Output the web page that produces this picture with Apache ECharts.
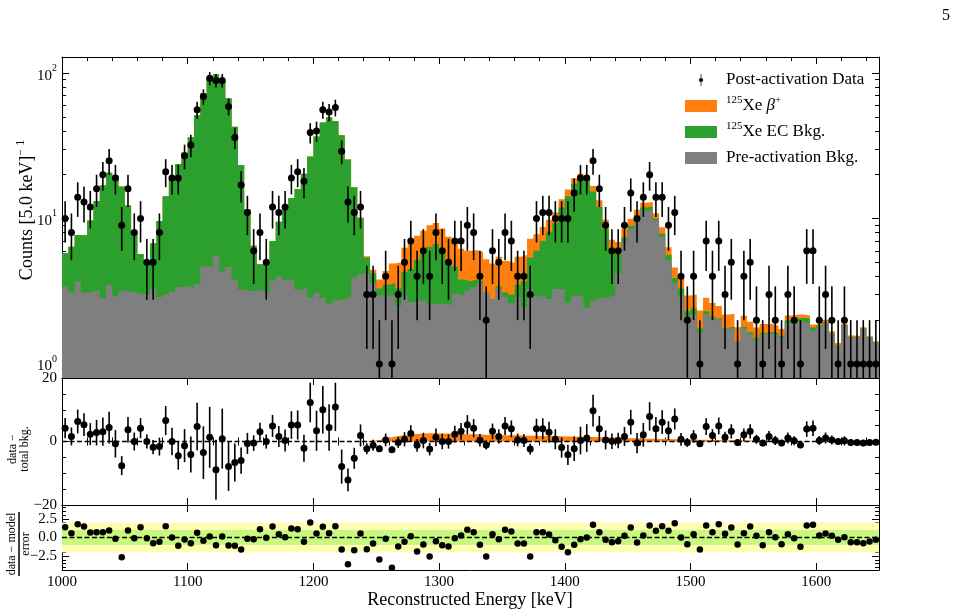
<!DOCTYPE html>
<html>
<head>
<meta charset="utf-8">
<script src="https://cdn.jsdelivr.net/npm/echarts@6/dist/echarts.min.js"></script>
<style>
  html, body { margin: 0; padding: 0; background: #fff; }
  #chart { width: 957px; height: 614px; }
</style>
</head>
<body>
<div id="chart"></div>
<script>
// 5 keV bins from 1000 to 1650 keV
const binStart = 1000;
const binWidth = 5;

// post-activation counts per bin
const counts = [
  10, 8, 14, 13, 12, 16, 20, 25, 19, 9,
  16, 8, 10, 5, 5, 8, 21, 19, 19, 27,
  32, 56, 69, 92, 89, 89, 59, 36, 17, 11,
  6, 8, 5, 12, 11, 12, 19, 21, 18, 39,
  40, 56, 54, 58, 29, 13, 11, 12, 3, 3,
  1, 4, 1, 3, 5, 7, 4, 6, 4, 8,
  6, 5, 7, 7, 9, 8, 4, 2, 6, 5,
  8, 7, 4, 4, 3, 10, 11, 11, 10, 10,
  10, 15, 19, 19, 25, 16, 9, 6, 6, 9,
  15, 10, 14, 20, 14, 14, 9, 11, 4, 2,
  4, 1, 7, 4, 7, 3, 5, 1, 4, 5,
  2, 1, 3, 2, 1, 3, 2, 1, 6, 6,
  2, 3, 2, 1, 2, 1, 1, 1, 1, 1
];

// pre-activation background
const preBkg = [
  3.40, 3.08, 3.70, 3.08, 3.16, 3.19, 2.83, 3.50, 2.92, 3.19,
  3.11, 3.14, 3.03, 3.00, 3.28, 2.88, 3.00, 3.14, 3.37, 3.42,
  3.35, 3.55, 4.70, 4.61, 5.56, 4.32, 4.63, 3.79, 3.23, 3.16,
  3.20, 3.23, 3.11, 3.75, 4.00, 3.79, 3.75, 3.23, 3.33, 2.85,
  3.08, 2.85, 2.59, 2.73, 2.80, 2.88, 3.93, 4.17, 4.17, 3.60,
  2.95, 2.95, 2.95, 2.50, 2.95, 2.66, 2.73, 2.73, 2.59, 2.59,
  2.59, 2.53, 3.03, 2.95, 3.19, 3.37, 3.60, 3.08, 2.78, 3.33,
  2.88, 2.59, 2.88, 2.47, 3.28, 2.91, 2.95, 2.80, 3.28, 3.28,
  2.62, 2.95, 2.91, 2.43, 2.73, 2.83, 2.88, 2.95, 4.17, 6.90,
  8.50, 10.2, 11.3, 11.4, 9.70, 7.50, 5.20, 3.60, 2.90, 2.10,
  2.20, 1.65, 2.20, 2.05, 1.99, 1.75, 1.75, 1.40, 1.75, 1.60,
  1.45, 1.60, 1.62, 1.58, 1.52, 1.90, 1.95, 1.95, 1.90, 1.70,
  1.80, 1.92, 1.60, 1.32, 1.83, 1.52, 1.52, 1.75, 1.52, 1.40
];

// 125Xe EC background
const ecBkg = [
  2.40, 3.32, 4.00, 4.62, 6.54, 10.0, 14.1, 17.1, 16.8, 13.4,
  9.19, 5.06, 2.67, 2.10, 3.47, 6.72, 11.2, 15.9, 20.3, 25.0,
  32.9, 47.8, 67.9, 86.2, 92.7, 83.7, 62.4, 38.9, 20.1, 8.44,
  3.30, 1.62, 1.94, 3.25, 5.50, 8.01, 10.1, 12.7, 17.0, 23.8,
  33.5, 42.9, 47.1, 44.1, 34.5, 22.6, 12.5, 5.93, 1.23, 0.60,
  0.35, 0.55, 0.65, 0.80, 1.35, 1.84, 2.47, 2.97, 3.81, 4.11,
  3.41, 2.47, 1.67, 0.85, 0.51, 0.43, 0.10, 0.02, 0.02, 0.07,
  0.22, 0.41, 0.62, 1.23, 2.12, 3.09, 4.05, 5.30, 6.02, 8.62,
  11.6, 14.4, 15.8, 15.5, 12.6, 9.17, 5.62, 2.95, 1.53, 0.50,
  0.40, 0.30, 0.60, 0.70, 0.30, 0.40, 0.40, 0.30, 0.40, 0.20,
  0.20, 0.10, 0.10, 0.07, 0.06, 0.02, 0.05, 0.02, 0.05, 0.05,
  0.05, 0.03, 0.04, 0.05, 0.04, 0.10, 0.10, 0.12, 0.15, 0.08,
  0.04, 0.02, 0.02, 0.02, 0.02, 0.01, 0.01, 0.01, 0.01, 0.01
];

// 125Xe beta+ signal
const betaPlus = [
  0, 0, 0, 0, 0, 0, 0, 0, 0, 0,
  0, 0, 0, 0, 0, 0, 0, 0, 0, 0,
  0, 0, 0, 0, 0, 0, 0, 0, 0, 0,
  0, 0, 0, 0, 0, 0, 0, 0, 0, 0,
  0, 0, 0, 0, 0, 0, 0, 0, 0.10, 0.25,
  0.50, 0.85, 1.30, 1.70, 2.00, 2.20, 2.40, 2.55, 2.60, 2.60,
  2.55, 2.50, 2.45, 2.40, 2.30, 2.25, 2.20, 2.15, 2.10, 2.05,
  2.00, 1.95, 1.95, 1.90, 1.85, 1.80, 1.75, 1.70, 1.70, 1.65,
  1.60, 1.55, 1.50, 1.45, 1.40, 1.35, 1.30, 1.25, 1.20, 1.10,
  1.05, 1.00, 0.95, 0.90, 0.85, 0.80, 0.75, 0.70, 0.68, 0.65,
  0.60, 0.58, 0.55, 0.50, 0.45, 0.42, 0.40, 0.37, 0.34, 0.30,
  0.28, 0.25, 0.22, 0.20, 0.18, 0.15, 0.13, 0.12, 0.10, 0.09,
  0.08, 0.07, 0.06, 0.05, 0.04, 0.04, 0.03, 0.03, 0.02, 0.02
];

// data - total bkg
const residuals = [
  4.2, 1.6, 6.3, 5.3, 2.3, 2.8, 3.1, 4.4, -0.7, -7.6,
  3.7, 0.0, 4.2, 0.0, -1.8, -1.6, 6.6, 0.0, -4.5, -1.3,
  -4.1, 4.7, -3.5, 1.3, -8.9, 0.9, -7.9, -6.6, -6.0, -0.6,
  -0.5, 3.1, 0.0, 4.9, 1.6, 0.3, 5.2, 5.2, -2.1, 12.3,
  3.4, 10.0, 4.4, 10.9, -7.9, -12.1, -5.3, 1.9, -2.3, -1.2,
  -2.3, 0.5, -2.6, -0.3, 0.7, 2.5, -1.2, 0.3, -2.4, 1.3,
  0.0, 0.0, 2.3, 3.2, 5.3, 4.2, 0.4, -1.1, 3.2, 1.6,
  4.9, 4.0, 0.5, 0.3, -2.4, 4.0, 4.0, 2.9, 0.7, -1.9,
  -4.2, -2.3, 0.3, 1.1, 9.7, 4.0, 0.5, 0.1, 0.3, 1.6,
  6.1, -0.5, 2.1, 7.9, 4.0, 6.1, 3.4, 7.1, 0.7, -0.3,
  1.6, -0.7, 4.7, 1.9, 4.9, 1.3, 3.2, -0.3, 2.1, 3.2,
  0.7, -0.5, 1.6, 0.3, -0.5, 1.1, 0.2, -1.1, 3.9, 4.2,
  0.3, 1.1, 0.5, 0.0, 0.2, -0.3, -0.3, -0.5, -0.3, -0.2
];

// (data - model) / error
const pulls = [
  1.38, 0.58, 1.79, 1.47, 0.67, 0.71, 0.71, 0.94, -0.18, -2.63,
  0.94, -0.09, 1.38, -0.09, -0.76, -0.58, 1.52, 0.00, -1.12, -0.27,
  -0.76, 0.63, -0.45, 0.13, -1.03, 0.13, -1.07, -1.12, -1.61, -0.18,
  -0.22, 1.12, -0.04, 1.47, 0.45, 0.04, 1.20, 1.12, -0.58, 2.00,
  0.54, 1.43, 0.58, 1.52, -1.61, -3.57, -1.70, 0.54, -1.56, -0.80,
  -2.95, -0.18, -4.06, -1.20, -0.58, 0.18, -1.88, -0.94, -2.54, -0.49,
  -1.03, -1.20, -0.09, 0.27, 1.03, 0.71, -0.98, -2.54, 0.45, -0.22,
  1.03, 0.80, -0.80, -0.80, -2.54, 0.71, 0.71, 0.40, -0.36, -1.25,
  -1.96, -0.98, -0.22, 0.00, 1.70, 0.71, -0.31, -0.63, -0.49, 0.22,
  1.34, -0.67, 0.27, 1.61, 0.89, 1.52, 0.89, 1.92, 0.00, -0.89,
  0.45, -1.61, 1.61, 0.71, 1.79, 0.49, 1.34, -0.94, 0.58, 1.47,
  0.22, -1.03, 0.71, 0.04, -0.89, 0.45, -0.09, -1.25, 1.61, 1.70,
  0.27, 0.54, 0.22, -0.31, 0.04, -0.63, -0.63, -0.76, -0.54, -0.31
];

// tick values
const energyTicks = [1000, 1100, 1200, 1300, 1400, 1500, 1600];
const energyMinor = [1020, 1040, 1060, 1080, 1120, 1140, 1160, 1180, 1220, 1240, 1260, 1280,
  1320, 1340, 1360, 1380, 1420, 1440, 1460, 1480, 1520, 1540, 1560, 1580, 1620, 1640];
const countTicks = [1, 10, 100];
const countMinor = [0.9, 2, 3, 4, 5, 6, 7, 8, 9, 20, 30, 40, 50, 60, 70, 80, 90];
const residTicks = [-20, 0, 20];
const residMinor = [-15, -10, -5, 5, 10, 15];
const pullTicks = [-2.5, 0, 2.5];
const pullMinor = [-4, -3.5, -3, -2, -1.5, -1, -0.5, 0.5, 1, 1.5, 2, 3, 3.5, 4];

const FONT = 'Liberation Serif';
const ORANGE = '#ff7f0e';
const GREEN = '#2ca02c';
const GREY = '#7f7f7f';

const nBins = counts.length;
const eMax = binStart + nBins * binWidth;
const centers = counts.map((_, i) => binStart + (i + 0.5) * binWidth);

// stacked levels
const ecTop = preBkg.map((g, i) => g + ecBkg[i]);
const totalTop = ecTop.map((v, i) => v + betaPlus[i]);

function stepData(vals) {
  const d = vals.map((v, i) => [binStart + i * binWidth, v]);
  d.push([eMax, vals[vals.length - 1]]);
  return d;
}

const dataPts = counts.map((c, i) => [centers[i], c]);
const dataErr = counts.map((c, i) => [centers[i], Math.max(c - Math.sqrt(c), 0.4), c + Math.sqrt(c)]);
const residPts = residuals.map((r, i) => [centers[i], r]);
const residErr = residuals.map((r, i) => [centers[i], r - Math.sqrt(counts[i]), r + Math.sqrt(counts[i])]);
const pullPts = pulls.map((p, i) => [centers[i], p]);
const betaBand = betaPlus.map((b, i) => [centers[i], b]);

const minus = v => (v < 0 ? '\u2212' : '') + Math.abs(v);

// axes
function xPair(grid, pos, labels) {
  const base = {
    type: 'value', gridIndex: grid, position: pos, min: binStart, max: eMax,
    splitLine: { show: false }
  };
  return [
    Object.assign({}, base, {
      axisLine: { show: true, onZero: false, lineStyle: { color: '#000', width: 1 } },
      axisTick: { show: true, inside: true, length: 7, customValues: energyTicks, lineStyle: { color: '#000' } },
      axisLabel: {
        show: labels, customValues: energyTicks, margin: 5, color: '#000',
        fontFamily: FONT, fontSize: 15, formatter: v => String(v)
      }
    }),
    Object.assign({}, base, {
      axisLine: { show: false },
      axisTick: { show: true, inside: true, length: 4, customValues: energyMinor, lineStyle: { color: '#000' } },
      axisLabel: { show: false }
    })
  ];
}

function yPair(grid, pos, type, min, max, majors, minors, label) {
  const base = { type: type, gridIndex: grid, position: pos, min: min, max: max, splitLine: { show: false } };
  if (type === 'log') base.logBase = 10;
  return [
    Object.assign({}, base, {
      axisLine: { show: true, onZero: false, lineStyle: { color: '#000', width: 1 } },
      axisTick: { show: true, inside: true, length: 7, customValues: majors, lineStyle: { color: '#000' } },
      axisLabel: label ? Object.assign({ customValues: majors, margin: 5, color: '#000', fontFamily: FONT, fontSize: 15 }, label)
                       : { show: false }
    }),
    Object.assign({}, base, {
      axisLine: { show: false },
      axisTick: { show: true, inside: true, length: 4, customValues: minors, lineStyle: { color: '#000' } },
      axisLabel: { show: false }
    })
  ];
}

const logLabel = {
  formatter: v => '{b|10}{e|' + Math.round(Math.log10(v)) + '}',
  rich: {
    b: { fontFamily: FONT, fontSize: 15, lineHeight: 20, verticalAlign: 'bottom', color: '#000' },
    e: { fontFamily: FONT, fontSize: 10, lineHeight: 10, verticalAlign: 'top', color: '#000' }
  }
};

const xAxes = [].concat(
  xPair(0, 'bottom', false), xPair(0, 'top', false),
  xPair(1, 'bottom', false), xPair(1, 'top', false),
  xPair(2, 'bottom', true), xPair(2, 'top', false)
);

const yAxes = [].concat(
  yPair(0, 'left', 'log', 0.8, 129, countTicks, countMinor, logLabel),
  yPair(0, 'right', 'log', 0.8, 129, countTicks, countMinor, null),
  yPair(1, 'left', 'value', -20, 20, residTicks, residMinor, { formatter: v => minus(v) }),
  yPair(1, 'right', 'value', -20, 20, residTicks, residMinor, null),
  yPair(2, 'left', 'value', -4.35, 4.35, pullTicks, pullMinor, { formatter: v => (v < 0 ? '\u2212' : '') + Math.abs(v).toFixed(1) }),
  yPair(2, 'right', 'value', -4.35, 4.35, pullTicks, pullMinor, null)
);

function errorBars(name, xi, yi, data, z) {
  return {
    name: name, type: 'custom', xAxisIndex: xi, yAxisIndex: yi, data: data, z: z, clip: true,
    itemStyle: { color: '#000' },
    encode: { x: 0, y: [1, 2] },
    renderItem: (params, api) => {
      const x = api.value(0);
      const a = api.coord([x, api.value(1)]);
      const b = api.coord([x, api.value(2)]);
      return {
        type: 'line',
        shape: { x1: a[0], y1: a[1], x2: b[0], y2: b[1] },
        style: { stroke: '#000', lineWidth: 1.6 }
      };
    }
  };
}

function stepArea(name, vals, color, z) {
  return {
    name: name, type: 'line', xAxisIndex: 0, yAxisIndex: 0, step: 'end',
    data: stepData(vals), symbol: 'none', showSymbol: false, z: z,
    itemStyle: { color: color },
    lineStyle: { width: 0, color: color },
    areaStyle: { color: color, opacity: 1, origin: 'start' }
  };
}

const zeroLine = {
  silent: true, symbol: 'none',
  label: { show: false },
  lineStyle: { color: '#000', type: [5, 2.5], width: 1.3 },
  data: [{ yAxis: 0 }]
};

const legendText = {
  data: 'Post-activation Data',
  beta: '{s|125}Xe {i|\u03b2}{s|+}',
  ec: '{s|125}Xe EC Bkg.',
  pre: 'Pre-activation Bkg.'
};

const chart = echarts.init(document.getElementById('chart'), null, { renderer: 'canvas' });

chart.setOption({
  animation: false,
  backgroundColor: '#fff',
  textStyle: { fontFamily: FONT },
  grid: [
    { left: 62, top: 57, width: 817, height: 321, outerBoundsMode: 'none' },
    { left: 62, top: 378, width: 817, height: 127, outerBoundsMode: 'none' },
    { left: 62, top: 505, width: 817, height: 65, outerBoundsMode: 'none' }
  ],
  xAxis: xAxes,
  yAxis: yAxes,
  legend: {
    orient: 'vertical', left: 680, top: 64,
    itemWidth: 32, itemHeight: 12, itemGap: 4,
    selectedMode: false,
    formatter: name => legendText[name],
    textStyle: {
      fontFamily: FONT, fontSize: 17, color: '#000', lineHeight: 22,
      padding: [0, 0, 0, 4],
      rich: {
        s: { fontFamily: FONT, fontSize: 11, lineHeight: 10, verticalAlign: 'top', color: '#000' },
        i: { fontFamily: FONT, fontSize: 17, fontStyle: 'italic', color: '#000' }
      }
    },
    data: [
      { name: 'data', icon: 'path://M4.4,0H5.6V20H4.4Z M1.5,10A3.5,3.5,0,1,1,8.5,10A3.5,3.5,0,1,1,1.5,10Z' },
      { name: 'beta', icon: 'rect' },
      { name: 'ec', icon: 'rect' },
      { name: 'pre', icon: 'rect' }
    ]
  },
  graphic: [
    {
      type: 'text', x: 946, y: 16,
      style: { text: '5', fill: '#000', font: '16px "Liberation Serif"', textAlign: 'center', textVerticalAlign: 'middle', align: 'center', verticalAlign: 'middle' }
    },
    {
      type: 'text', x: 27, y: 210, rotation: Math.PI / 2,
      style: {
        text: 'Counts [5.0 keV]{s|\u2212 1}', fill: '#000', font: '18px "Liberation Serif"',
        textAlign: 'center', textVerticalAlign: 'middle', align: 'center', verticalAlign: 'middle',
        lineHeight: 24,
        rich: { s: { fontFamily: FONT, fontSize: 12, lineHeight: 12, verticalAlign: 'top', fill: '#000' } }
      }
    },
    {
      type: 'group', x: 19, y: 449, rotation: Math.PI / 2,
      children: [
        { type: 'text', x: 0, y: -6, style: { text: 'data \u2212', fill: '#000', font: '12px "Liberation Serif"', textAlign: 'center', textVerticalAlign: 'middle', align: 'center', verticalAlign: 'middle' } },
        { type: 'text', x: 0, y: 6, style: { text: 'total bkg.', fill: '#000', font: '12px "Liberation Serif"', textAlign: 'center', textVerticalAlign: 'middle', align: 'center', verticalAlign: 'middle' } }
      ]
    },
    {
      type: 'group', x: 19, y: 544, rotation: Math.PI / 2,
      children: [
        { type: 'text', x: 0, y: -7, style: { text: 'data \u2212 model', fill: '#000', font: '12px "Liberation Serif"', textAlign: 'center', textVerticalAlign: 'middle', align: 'center', verticalAlign: 'middle' } },
        { type: 'line', shape: { x1: -32, y1: 0, x2: 32, y2: 0 }, style: { stroke: '#000', lineWidth: 1.5 } },
        { type: 'text', x: 0, y: 7, style: { text: 'error', fill: '#000', font: '12px "Liberation Serif"', textAlign: 'center', textVerticalAlign: 'middle', align: 'center', verticalAlign: 'middle' } }
      ]
    },
    {
      type: 'text', x: 470, y: 600,
      style: { text: 'Reconstructed Energy [keV]', fill: '#000', font: '18px "Liberation Serif"', textAlign: 'center', textVerticalAlign: 'middle', align: 'center', verticalAlign: 'middle' }
    }
  ],
  series: [
    // top panel: stacked model
    stepArea('beta', totalTop, ORANGE, 1),
    stepArea('ec', ecTop, GREEN, 2),
    stepArea('pre', preBkg, GREY, 3),
    errorBars('data', 0, 0, dataErr, 5),
    {
      name: 'data', type: 'scatter', xAxisIndex: 0, yAxisIndex: 0, data: dataPts,
      symbolSize: 7, itemStyle: { color: '#000', opacity: 1 }, z: 6
    },

    // middle panel: data - total bkg
    {
      name: 'betaBand', type: 'line', xAxisIndex: 4, yAxisIndex: 4, data: betaBand,
      symbol: 'none', showSymbol: false, z: 1,
      lineStyle: { width: 0, color: ORANGE }, itemStyle: { color: ORANGE },
      areaStyle: { color: ORANGE, opacity: 1, origin: 'auto' }
    },
    errorBars('resid', 4, 4, residErr, 5),
    {
      name: 'resid', type: 'scatter', xAxisIndex: 4, yAxisIndex: 4, data: residPts,
      symbolSize: 7, itemStyle: { color: '#000', opacity: 1 }, z: 6,
      markLine: zeroLine
    },

    // bottom panel: normalised residuals
    {
      name: 'bands', type: 'line', xAxisIndex: 8, yAxisIndex: 8, data: [], z: 1,
      markArea: {
        silent: true,
        data: [
          [{ yAxis: -2, itemStyle: { color: '#fdfdb4' } }, { yAxis: 2 }],
          [{ yAxis: -1, itemStyle: { color: '#c8f880' } }, { yAxis: 1 }]
        ]
      }
    },
    {
      name: 'pull', type: 'scatter', xAxisIndex: 8, yAxisIndex: 8, data: pullPts,
      symbolSize: 6.5, itemStyle: { color: '#000', opacity: 1 }, z: 6,
      markLine: zeroLine
    }
  ]
});
</script>
</body>
</html>
